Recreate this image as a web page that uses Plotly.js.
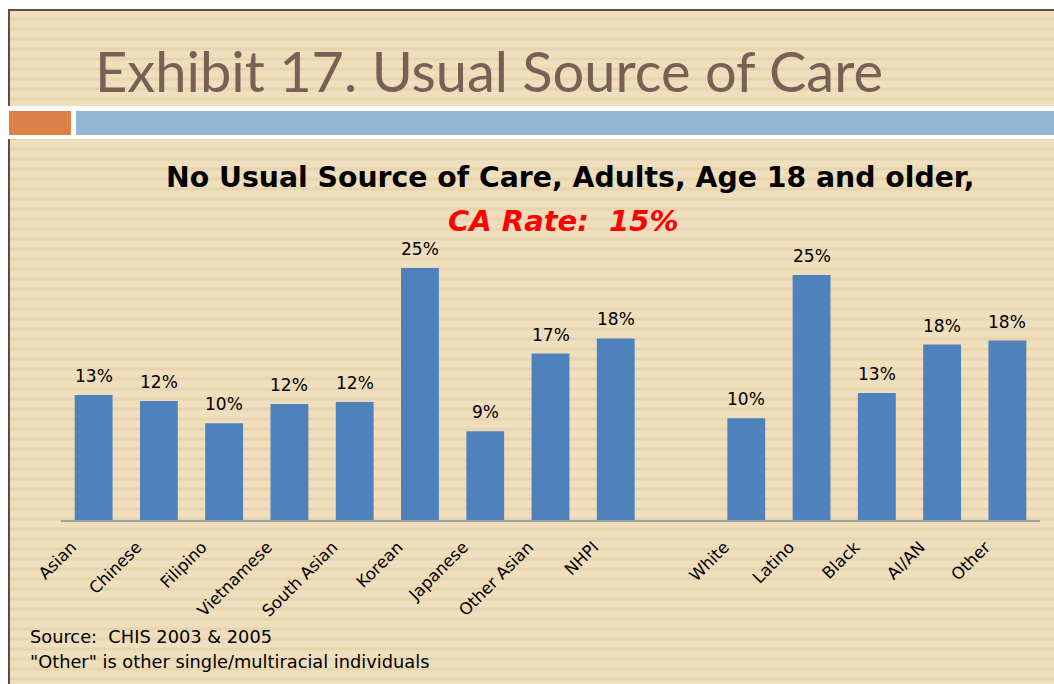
<!DOCTYPE html>
<html>
<head>
<meta charset="utf-8">
<script src="https://cdn.plot.ly/plotly-3.0.1.min.js"></script>
<style>
  html, body { margin:0; padding:0; width:1054px; height:684px; background:#ffffff; overflow:hidden; }
  #bg { position:absolute; left:8px; top:9px; width:1046px; height:675px;
        border-left:2px solid #5a5048; border-top:2px solid #5a5048; box-sizing:border-box;
        background: repeating-linear-gradient(to bottom, #efdfbf 0px, #efdfbf 6px, #e8d5ad 7px, #e8d5ad 9px, #efdfbf 10px); }
  #band { position:absolute; left:0; top:106px; width:1054px; height:33px; background:#ffffff; }
  #orange { position:absolute; left:9px; top:111px; width:62px; height:24px; background:#dd8047; }
  #blue { position:absolute; left:76px; top:111px; width:978px; height:24px; background:#94b6d2; }
  #chart { position:absolute; left:0; top:0; width:1054px; height:684px; }
</style>
</head>
<body>
<div id="bg"></div>
<div id="band"></div>
<div id="orange"></div>
<div id="blue"></div>
<div id="chart"></div>
<script>
const categories = ["Asian","Chinese","Filipino","Vietnamese","South Asian","Korean","Japanese","Other Asian","NHPI"," ","White","Latino","Black","AI/AN","Other"];
const values = [12.4, 11.8, 9.6, 11.5, 11.7, 25.0, 8.8, 16.5, 18.0, null, 10.1, 24.3, 12.6, 17.4, 17.8];
const labels = ["13%","12%","10%","12%","12%","25%","9%","17%","18%","","10%","25%","13%","18%","18%"];

const W = 1054, H = 684;
const M = {l:61, r:14, t:160, b:164};
const px2x = px => (px - M.l) / (W - M.l - M.r);
const px2y = py => (H - M.b - py) / (H - M.t - M.b);

const titleFont = "Lato, 'Open Sans', sans-serif";
const chartFont = "'DejaVu Sans', Verdana, sans-serif";

const trace = {
  type: 'bar',
  x: categories,
  y: values,
  marker: {color: '#4f81bd'},
  hoverinfo: 'none'
};

const valueAnnotations = categories.map((c, i) => values[i] == null ? null : ({
  x: c, y: values[i], xref: 'x', yref: 'y',
  text: labels[i], showarrow: false,
  xanchor: 'center', yanchor: 'bottom', yshift: 7,
  font: {family: chartFont, size: 17, color: '#000000'}
})).filter(a => a);

const layout = {
  width: W, height: H,
  margin: M,
  paper_bgcolor: 'rgba(0,0,0,0)',
  plot_bgcolor: 'rgba(0,0,0,0)',
  showlegend: false,
  bargap: 0.42,
  xaxis: {
    type: 'category',
    showline: true, linecolor: '#a0a0a0', linewidth: 2,
    showgrid: false, zeroline: false, ticks: '',
    tickangle: -45,
    ticklabelshift: -22,
    ticklabelstandoff: 9,
    tickfont: {family: chartFont, size: 16.5, color: '#000000'},
    fixedrange: true
  },
  yaxis: {
    visible: false, range: [0, 35.7], fixedrange: true
  },
  annotations: valueAnnotations.concat([
    {xref:'paper', yref:'paper', x: px2x(93), y: px2y(70), xanchor:'left', yanchor:'middle',
     text:'Exhibit 17. Usual Source of Care', showarrow:false,
     font:{family: titleFont, size: 56, color:'#7a5f55'}},
    {xref:'paper', yref:'paper', x: px2x(570), y: px2y(177), xanchor:'center', yanchor:'middle',
     text:'<b>No Usual Source of Care, Adults, Age 18 and older,</b>', showarrow:false,
     font:{family: chartFont, size: 28.3, color:'#000000'}},
    {xref:'paper', yref:'paper', x: px2x(563), y: px2y(221), xanchor:'center', yanchor:'middle',
     text:'<b><i>CA Rate:  15%</i></b>', showarrow:false,
     font:{family: chartFont, size: 29, color:'#ff0000'}},
    {xref:'paper', yref:'paper', x: px2x(28), y: px2y(636), xanchor:'left', yanchor:'middle',
     text:'Source:  CHIS 2003 & 2005', showarrow:false,
     font:{family: chartFont, size: 17.8, color:'#000000'}},
    {xref:'paper', yref:'paper', x: px2x(28), y: px2y(661), xanchor:'left', yanchor:'middle',
     text:'"Other" is other single/multiracial individuals', showarrow:false,
     font:{family: chartFont, size: 17.8, color:'#000000'}}
  ])
};

Plotly.newPlot('chart', [trace], layout, {displayModeBar: false, staticPlot: true});
</script>
</body>
</html>
